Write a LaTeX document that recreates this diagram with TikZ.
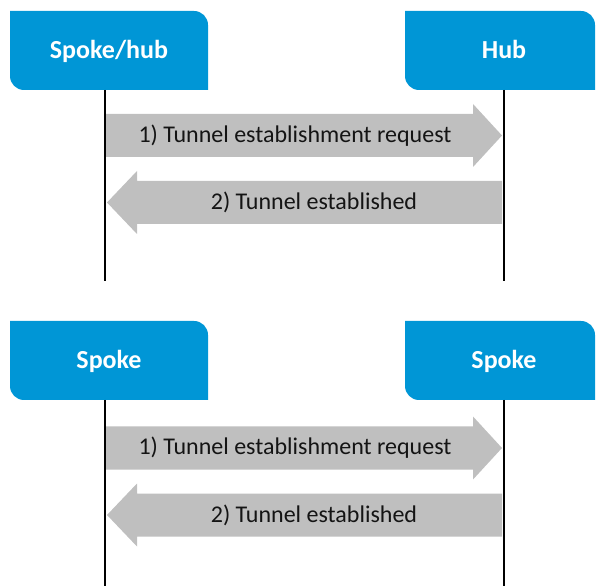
\documentclass[tikz,border=0pt]{standalone}
\usepackage{fontspec}
\setmainfont{Carlito}
\usetikzlibrary{calc}
\definecolor{hpblue}{HTML}{0096D6}
\definecolor{msggray}{HTML}{BFBFBF}
\definecolor{msgtext}{HTML}{141414}
\begin{document}
\begin{tikzpicture}[x=1pt,y=1pt,
  % participant header: rounded top-right and bottom-left corners only
  party/.style={minimum height=79pt, inner sep=0pt, text=white,
    text height=17pt, text depth=0pt,
    font=\fontsize{26}{30}\selectfont\bfseries,
    path picture={
      \fill[hpblue] (path picture bounding box.north west)
        -- ([xshift=-14pt]path picture bounding box.north east)
        arc[start angle=90, end angle=0, radius=14pt]
        -- (path picture bounding box.south east)
        -- ([xshift=14pt]path picture bounding box.south west)
        arc[start angle=270, end angle=180, radius=14pt]
        -- cycle;}},
  lifeline/.style={line width=1.8pt, black},
  msg/.style={fill=msggray},
  msglabel/.style={text=msgtext, font=\fontsize{24}{28}\selectfont, inner sep=0pt}]

\useasboundingbox (0,0) rectangle (596,586);

% ---------- upper exchange ----------
\node[party, minimum width=198pt] (sh)  at (109,535.5) {Spoke/hub};
\node[party, minimum width=190pt] (hub) at (500,535.5) {\hspace*{8pt}Hub};

\coordinate (shT) at (105,496);  \coordinate (shB) at (105,305);
\coordinate (hubT) at (504,496); \coordinate (hubB) at (504,305);
\draw[lifeline] (shT) -- (shB);
\draw[lifeline] (hubT) -- (hubB);

% request arrow (left to right)
\coordinate (r1s) at (106,450.5); \coordinate (r1e) at (502,450.5);
\fill[msg] ($(r1s)+(0,21.5)$) -- ($(r1e)+(-29,21.5)$) -- ($(r1e)+(-29,31.5)$)
  -- (r1e) -- ($(r1e)+(-29,-31.5)$) -- ($(r1e)+(-29,-21.5)$)
  -- ($(r1s)+(0,-21.5)$) -- cycle;
\node[msglabel] (r1t) at (295,450.5) {1) Tunnel establishment request};

% reply arrow (right to left)
\coordinate (a1s) at (502,383.5); \coordinate (a1e) at (107,383.5);
\fill[msg] ($(a1s)+(0,21.5)$) -- ($(a1e)+(30,21.5)$) -- ($(a1e)+(30,31.5)$)
  -- (a1e) -- ($(a1e)+(30,-31.5)$) -- ($(a1e)+(30,-21.5)$)
  -- ($(a1s)+(0,-21.5)$) -- cycle;
\node[msglabel] (a1t) at (314,383.5) {2) Tunnel established};

% ---------- lower exchange ----------
\node[party, minimum width=198pt] (sp1) at (109,225.5) {Spoke};
\node[party, minimum width=190pt] (sp2) at (500,225.5) {\hspace*{8pt}Spoke};

\coordinate (sp1T) at (105,186); \coordinate (sp1B) at (105,0);
\coordinate (sp2T) at (504,186); \coordinate (sp2B) at (504,0);
\draw[lifeline] (sp1T) -- (sp1B);
\draw[lifeline] (sp2T) -- (sp2B);

\coordinate (r2s) at (106,138); \coordinate (r2e) at (502,138);
\fill[msg] ($(r2s)+(0,21.5)$) -- ($(r2e)+(-29,21.5)$) -- ($(r2e)+(-29,31.5)$)
  -- (r2e) -- ($(r2e)+(-29,-31.5)$) -- ($(r2e)+(-29,-21.5)$)
  -- ($(r2s)+(0,-21.5)$) -- cycle;
\node[msglabel] (r2t) at (295,138) {1) Tunnel establishment request};

\coordinate (a2s) at (502,71); \coordinate (a2e) at (107,71);
\fill[msg] ($(a2s)+(0,21.5)$) -- ($(a2e)+(30,21.5)$) -- ($(a2e)+(30,31.5)$)
  -- (a2e) -- ($(a2e)+(30,-31.5)$) -- ($(a2e)+(30,-21.5)$)
  -- ($(a2s)+(0,-21.5)$) -- cycle;
\node[msglabel] (a2t) at (314,71) {2) Tunnel established};
\end{tikzpicture}
\end{document}
